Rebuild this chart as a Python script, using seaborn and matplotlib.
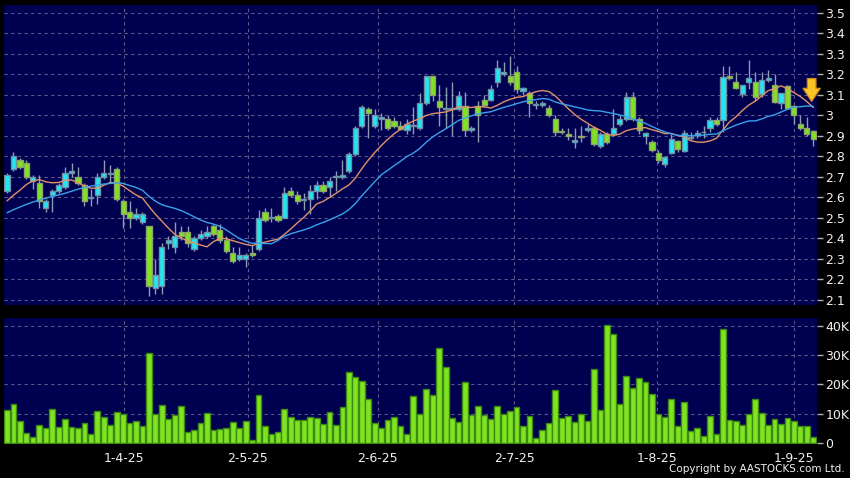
import numpy as np
import pandas as pd
import matplotlib
matplotlib.use('Agg')
import matplotlib.pyplot as plt
import seaborn as sns

# HK trading days shown on the chart
hk_holidays = ['2025-04-04', '2025-04-18', '2025-04-21', '2025-05-01', '2025-05-05', '2025-07-01']
dates = pd.bdate_range('2025-03-06', '2025-09-05', freq='C', holidays=hk_holidays)

opens = [2.63, 2.74, 2.78, 2.77, 2.68, 2.67, 2.55, 2.61, 2.63, 2.65,
         2.72, 2.70, 2.66, 2.595, 2.61, 2.70, 2.715, 2.74, 2.58, 2.53,
         2.50, 2.48, 2.46, 2.16, 2.17, 2.38, 2.36, 2.43, 2.43, 2.35,
         2.40, 2.41, 2.46, 2.44, 2.39, 2.33, 2.30, 2.30, 2.33, 2.35,
         2.53, 2.50, 2.51, 2.50, 2.63, 2.61, 2.585, 2.59, 2.63, 2.66,
         2.65, 2.70, 2.70, 2.73, 2.81, 2.95, 3.03, 2.95, 2.98, 2.98,
         2.97, 2.95, 2.93, 2.95, 2.94, 3.06, 3.19, 3.07, 3.03, 3.03,
         3.03, 3.045, 2.93, 3.045, 3.077, 3.077, 3.16, 3.20, 3.19, 3.21,
         3.118, 3.107, 3.05, 3.05, 3.038, 2.98, 2.925, 2.907, 2.868, 2.90,
         2.928, 2.936, 2.85, 2.907, 2.908, 2.96, 2.98, 3.087, 2.98, 2.898,
         2.868, 2.817, 2.762, 2.814, 2.876, 2.827, 2.89, 2.903, 2.918, 2.936,
         2.979, 2.979, 3.19, 3.163, 3.103, 3.163, 3.163, 3.103, 3.172, 3.15,
         3.058, 3.142, 3.045, 2.96, 2.936, 2.925]
highs = [2.72, 2.82, 2.79, 2.78, 2.71, 2.71, 2.59, 2.64, 2.67, 2.75,
         2.77, 2.75, 2.67, 2.64, 2.72, 2.78, 2.76, 2.75, 2.59, 2.58,
         2.55, 2.53, 2.46, 2.30, 2.38, 2.41, 2.48, 2.46, 2.46, 2.41,
         2.44, 2.46, 2.47, 2.47, 2.41, 2.36, 2.36, 2.33, 2.37, 2.54,
         2.55, 2.55, 2.52, 2.65, 2.65, 2.63, 2.62, 2.66, 2.68, 2.68,
         2.70, 2.73, 2.78, 2.82, 2.95, 3.05, 3.04, 3.03, 3.01, 3.00,
         2.99, 2.97, 2.98, 3.04, 3.11, 3.19, 3.19, 3.15, 3.14, 3.16,
         3.12, 3.115, 2.95, 3.07, 3.10, 3.15, 3.27, 3.26, 3.29, 3.24,
         3.14, 3.12, 3.07, 3.07, 3.05, 3.00, 2.94, 2.94, 2.936, 2.95,
         2.96, 2.95, 2.92, 2.92, 3.03, 3.00, 3.115, 3.115, 2.99, 2.92,
         2.88, 2.83, 2.80, 2.91, 2.88, 2.93, 2.92, 2.93, 2.95, 2.99,
         2.99, 3.24, 3.24, 3.21, 3.15, 3.27, 3.21, 3.21, 3.22, 3.20,
         3.11, 3.15, 3.05, 3.00, 2.99, 2.93]
lows = [2.62, 2.73, 2.74, 2.69, 2.64, 2.55, 2.53, 2.53, 2.62, 2.64,
        2.70, 2.66, 2.56, 2.56, 2.57, 2.69, 2.67, 2.58, 2.45, 2.45,
        2.49, 2.47, 2.12, 2.13, 2.13, 2.35, 2.33, 2.39, 2.36, 2.34,
        2.39, 2.40, 2.41, 2.38, 2.33, 2.28, 2.29, 2.26, 2.31, 2.34,
        2.48, 2.48, 2.48, 2.50, 2.60, 2.57, 2.54, 2.52, 2.59, 2.62,
        2.60, 2.63, 2.69, 2.72, 2.80, 2.94, 2.89, 2.94, 2.93, 2.93,
        2.94, 2.93, 2.91, 2.91, 2.93, 3.05, 3.07, 2.95, 2.94, 2.90,
        3.02, 2.90, 2.92, 2.87, 3.04, 3.07, 3.14, 3.19, 3.15, 3.11,
        3.10, 2.99, 3.03, 3.04, 2.99, 2.90, 2.91, 2.88, 2.84, 2.87,
        2.92, 2.85, 2.84, 2.86, 2.90, 2.95, 2.97, 2.97, 2.91, 2.86,
        2.82, 2.77, 2.75, 2.81, 2.82, 2.82, 2.88, 2.89, 2.89, 2.92,
        2.95, 2.92, 3.17, 3.13, 3.09, 3.13, 3.07, 3.09, 3.16, 3.06,
        3.03, 3.03, 2.96, 2.93, 2.90, 2.85]
closes = [2.71, 2.80, 2.75, 2.70, 2.70, 2.58, 2.58, 2.63, 2.66, 2.72,
          2.73, 2.67, 2.58, 2.60, 2.70, 2.72, 2.72, 2.59, 2.52, 2.50,
          2.52, 2.52, 2.17, 2.22, 2.36, 2.39, 2.41, 2.41, 2.38, 2.40,
          2.42, 2.43, 2.42, 2.39, 2.34, 2.29, 2.32, 2.32, 2.32, 2.50,
          2.49, 2.505, 2.49, 2.62, 2.61, 2.58, 2.59, 2.63, 2.66, 2.63,
          2.68, 2.705, 2.71, 2.81, 2.94, 3.04, 3.01, 3.00, 2.99, 2.94,
          2.95, 2.935, 2.96, 2.955, 3.06, 3.19, 3.10, 3.04, 3.035, 3.035,
          3.095, 2.93, 2.94, 3.00, 3.05, 3.13, 3.23, 3.21, 3.16, 3.13,
          3.131, 3.06, 3.05, 3.058, 3.00, 2.917, 2.92, 2.90, 2.88, 2.893,
          2.936, 2.86, 2.907, 2.871, 2.936, 2.98, 3.087, 2.98, 2.928, 2.916,
          2.83, 2.78, 2.797, 2.883, 2.838, 2.915, 2.895, 2.915, 2.92, 2.979,
          2.96, 3.188, 3.18, 3.131, 3.15, 3.18, 3.087, 3.17, 3.18, 3.066,
          3.107, 3.038, 3.001, 2.936, 2.908, 2.887]
volume_k = [11.3, 13.2, 7.7, 3.4, 2.2, 6.3, 5.1, 11.5, 5.4, 8.3,
            5.4, 5.2, 6.8, 3.2, 11.0, 9.1, 6.2, 10.5, 10.1, 7.0,
            7.6, 5.8, 30.8, 10.1, 13.0, 8.3, 9.6, 12.8, 3.9, 4.5,
            7.0, 10.4, 4.4, 5.0, 5.1, 7.4, 5.1, 7.7, 1.0, 16.4,
            5.9, 3.2, 3.9, 11.7, 9.1, 7.8, 7.8, 9.1, 8.5, 6.6,
            10.5, 6.2, 12.5, 24.3, 22.4, 21.3, 15.1, 6.9, 5.1, 7.8,
            9.0, 5.8, 3.3, 16.0, 10.0, 18.6, 16.4, 32.3, 25.9, 8.5,
            7.4, 20.9, 9.6, 12.8, 9.6, 8.2, 12.8, 10.0, 10.9, 12.2,
            6.0, 9.3, 1.9, 4.5, 7.0, 18.1, 8.5, 9.4, 7.1, 9.8,
            7.6, 25.2, 11.3, 40.2, 37.1, 13.3, 22.9, 18.8, 22.2, 20.9,
            16.8, 9.9, 9.0, 15.1, 5.9, 14.1, 4.3, 5.2, 2.6, 9.3,
            3.1, 38.9, 8.0, 7.7, 6.1, 10.0, 14.9, 10.4, 6.3, 8.4,
            6.5, 8.6, 7.7, 5.9, 5.9, 2.2]
# moving averages before their windows fill
ma10_head = [2.583, 2.611, 2.635, 2.663, 2.680, 2.687, 2.676, 2.671, 2.673]
ma20_head = [2.525, 2.540, 2.553, 2.566, 2.577, 2.587, 2.596, 2.604, 2.612, 2.620,
             2.630, 2.640, 2.648, 2.655, 2.660, 2.665, 2.668, 2.671, 2.668]

tick_dates = ['2025-04-01', '2025-05-02', '2025-06-02', '2025-07-02', '2025-08-01', '2025-09-01']
price_ticks = [3.5, 3.4, 3.3, 3.2, 3.1, 3.0, 2.9, 2.8, 2.7, 2.6, 2.5, 2.4, 2.3, 2.2, 2.1]
vol_ticks = [0, 10, 20, 30, 40]

df = pd.DataFrame({'date': dates, 'open': opens, 'high': highs, 'low': lows,
                   'close': closes, 'vol': volume_k})
df['i'] = np.arange(len(df))
df['ma10'] = df['close'].rolling(10).mean()
df['ma20'] = df['close'].rolling(20).mean()
df.loc[:len(ma10_head) - 1, 'ma10'] = ma10_head
df.loc[:len(ma20_head) - 1, 'ma20'] = ma20_head
up = df['close'] >= df['open']

n = len(df)
tick_pos = [dates.get_loc(pd.Timestamp(d)) * n / (n - 1) for d in tick_dates]
tick_lab = [f'{pd.Timestamp(d).day}-{pd.Timestamp(d).month}-{pd.Timestamp(d).year % 100}' for d in tick_dates]

NAVY = '#000050'
GRID = '#5a5a8c'
CYAN = '#22e6f2'
LIME = '#80e322'
TXT = '#f0f0f0'

sns.set_style('dark')
plt.rcParams['font.family'] = ['DejaVu Sans']

fig = plt.figure(figsize=(8.5, 4.78), dpi=100, facecolor='black')
ax = fig.add_axes([4 / 850, 1 - 305 / 478, 813 / 850, 300 / 478])
axv = fig.add_axes([4 / 850, 1 - 444 / 478, 813 / 850, 126 / 478])

xlim = (-0.47, n - 0.42)

# ---- price panel ----
ax.set_facecolor(NAVY)
ax.vlines(df['i'], df['low'], df['high'], color='#8d9db0', lw=1, zorder=2)
body_lo = np.minimum(df['open'], df['close'])
body_h = np.maximum((df['close'] - df['open']).abs(), 0.003)
ax.bar(df['i'], body_h, bottom=body_lo, width=0.8,
       color=np.where(up, CYAN, LIME),
       edgecolor=np.where(up, '#6f8ea3', '#8ea36a'), lw=1, zorder=3)
sns.lineplot(data=df, x='i', y='ma10', color='#e0926a', lw=1, ax=ax, zorder=4)
sns.lineplot(data=df, x='i', y='ma20', color='#3aa2e8', lw=1, ax=ax, zorder=4)

# sell signal arrow over the end of the short MA
ax_tip = df['i'].iloc[-1] - 0.25
ay_tip = df['ma10'].iloc[-2]
ax.annotate('', xy=(ax_tip, ay_tip), xytext=(ax_tip, ay_tip + 0.112),
            arrowprops=dict(arrowstyle='simple,head_width=1.25,head_length=0.95,tail_width=0.62',
                            fc='#f8c426', ec='#d08a12', lw=0.9, shrinkA=0, shrinkB=0,
                            mutation_scale=10), zorder=6)

ax.set_xlim(*xlim)
ax.set_ylim(2.0756, 3.5376)
ax.yaxis.tick_right()
ax.set_yticks(price_ticks)
ax.set_yticklabels([f'{v:g}' for v in price_ticks])
ax.set_xticks(tick_pos)
ax.set_xticklabels([])
ax.tick_params(axis='y', direction='out', length=4, width=1, color='#b0b0b0',
               labelcolor=TXT, labelsize=9, pad=2)
ax.tick_params(axis='x', length=0)
ax.grid(True, color=GRID, linestyle=(0, (3, 3)), lw=0.8)
ax.set_xlabel('')
ax.set_ylabel('')
for s in ax.spines.values():
    s.set_visible(False)

# ---- volume panel ----
axv.set_facecolor(NAVY)
sns.barplot(data=df, x='i', y='vol', native_scale=True, color=LIME, saturation=1,
            edgecolor='#3d8a12', linewidth=1, width=0.9, errorbar=None, ax=axv, zorder=3)
axv.set_xlim(*xlim)
axv.set_ylim(-0.24, 42.6)
axv.yaxis.tick_right()
axv.set_yticks(vol_ticks)
axv.set_yticklabels(['0' if v == 0 else f'{v}K' for v in vol_ticks])
axv.set_xticks(tick_pos)
axv.set_xticklabels(tick_lab)
axv.tick_params(axis='y', direction='out', length=4, width=1, color='#b0b0b0',
                labelcolor=TXT, labelsize=9, pad=2)
axv.tick_params(axis='x', direction='out', length=3, width=1, color='#b0b0b0',
                labelcolor=TXT, labelsize=9, pad=3)
axv.grid(True, color=GRID, linestyle=(0, (3, 3)), lw=0.8)
axv.set_xlabel('')
axv.set_ylabel('')
for s in axv.spines.values():
    s.set_visible(False)

fig.text(0.994, 0.008, 'Copyright by AASTOCKS.com Ltd.', ha='right', va='bottom',
         color=TXT, fontsize=7.5)

fig.savefig('out.png', dpi=100, facecolor='black')
